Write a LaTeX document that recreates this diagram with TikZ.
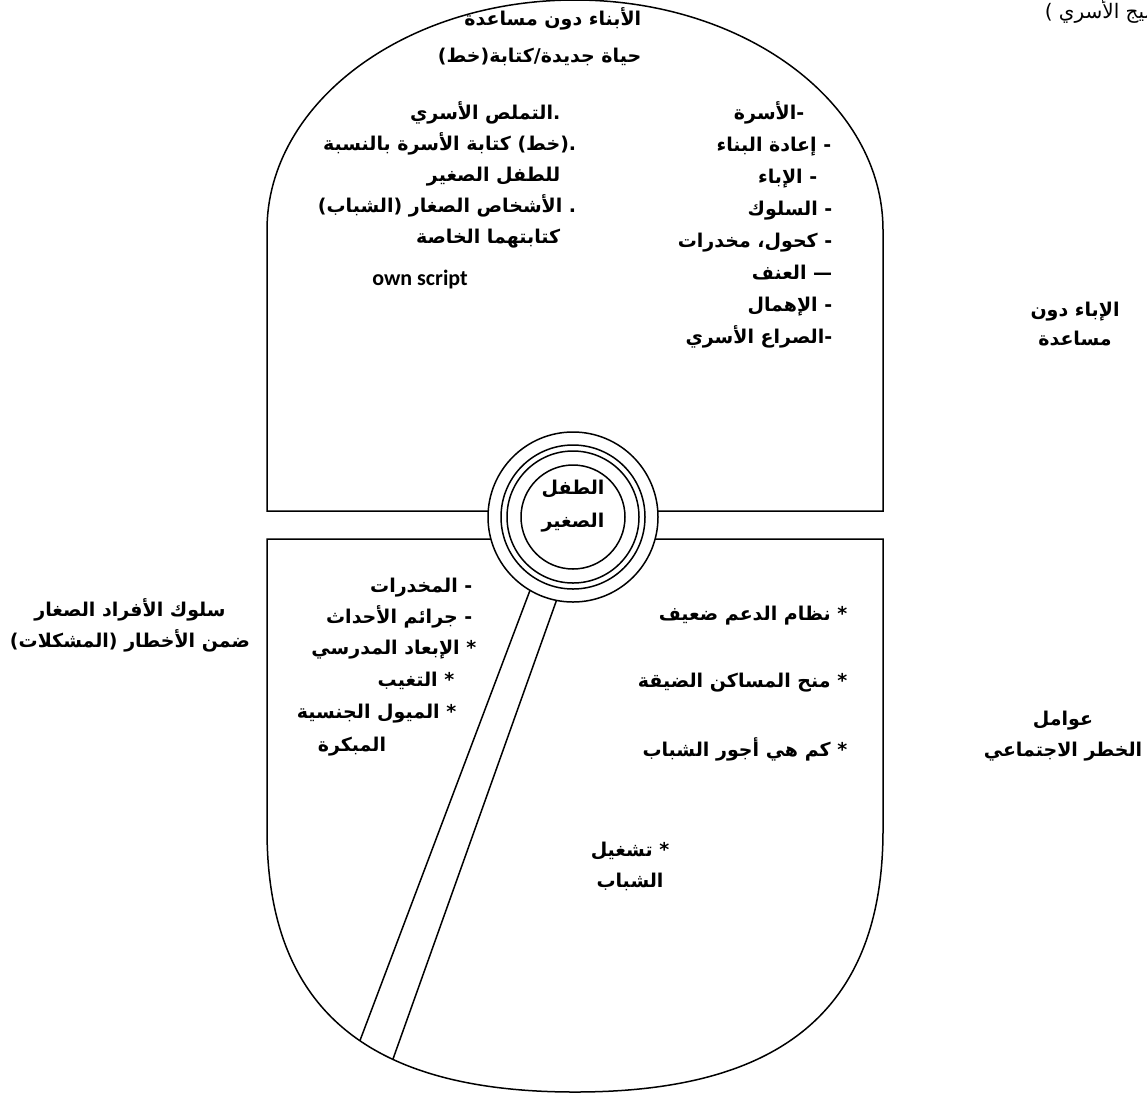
\documentclass[tikz,border=0pt]{standalone}
\usepackage{fontspec}
\newfontfamily\arfont[Script=Arabic]{DejaVu Sans}
\newfontfamily\latfont{Carlito}
\TeXXeTstate=1
\newcommand{\ar}[1]{\beginR #1\endR}
\newcommand{\nb}[1]{\hbox{#1}}
\tikzset{
  txt/.style={font=\arfont\bfseries\fontsize{19}{31}\selectfont,inner sep=0pt,text height=14pt,text depth=6pt},
  blk/.style={font=\arfont\bfseries\fontsize{19}{31}\selectfont,inner sep=0pt,align=center},
  ring/.style={draw,circle,line width=1.5pt,inner sep=0pt},
}
\begin{document}
\begin{tikzpicture}[x=1pt,y=-1pt,line width=1.5pt]
\useasboundingbox (0,0) rectangle (1147,1093);
% the two halves
\draw (573,511) -- (267,511) -- (267,230) arc[start angle=180,end angle=360,x radius=308,y radius=230] -- (883,511) -- cycle;
\draw (573,539) -- (267,539) -- (267,830) .. controls (267,1010) and (369,1092) .. (575,1092) coordinate[pos=0.55] (b1) coordinate[pos=0.64] (b2)
  .. controls (781,1092) and (883,1010) .. (883,830) -- (883,539) -- cycle;
% the band
\draw (549,540) -- (b1);
\draw (578,540) -- (b2);
% the rings
\node[ring,fill=white,minimum size=170] (ring1) at (573,517) {};
\foreach \d/\n in {144/ring2,132/ring3,104/core}
  \node[ring,minimum size=\d] (\n) at (ring1) {};
\node[blk,font=\arfont\bfseries\fontsize{19}{33}\selectfont] (child) at (573,506) {\ar{الطفل}\\\ar{الصغير}};
% upper texts
\node[txt,anchor=east] (title1) at (642,21) {\ar{الأبناء دون مساعدة}};
\node[txt,anchor=east] (title2) at (642,58) {\ar{حياة جديدة/كتابة\nb{(خط)}}};
\node[txt,anchor=east] (esc1) at (561,115) {\ar{\nb{.}التملص الأسري}};
\node[txt,anchor=east] (esc2) at (577,146) {\ar{\nb{.}\nb{(خط)} كتابة الأسرة بالنسبة}};
\node[txt,anchor=east] (esc3) at (561,177) {\ar{للطفل الصغير}};
\node[txt,anchor=east] (esc4) at (577,208) {\ar{\nb{.} الأشخاص الصغار \nb{(الشباب)}}};
\node[txt,anchor=east] (esc5) at (561,239) {\ar{كتابتهما الخاصة}};
\node[font=\latfont\bfseries\fontsize{22}{24}\selectfont,inner sep=0pt] (own) at (420,280) {own script};
\foreach \x/\y/\s [count=\i] in {805/115/{\nb{-}الأسرة},832/147/{\nb{-} إعادة البناء},818/179/{\nb{-} الإباء},833/211/{\nb{-} السلوك},833/243/{\nb{-} كحول\nb{،} مخدرات},833/275/{\nb{—} العنف},833/307/{\nb{-} الإهمال},833/339/{\nb{-}الصراع الأسري}}
  \node[txt,anchor=east] (fam\i) at (\x,\y) {\ar{\s}};
% lower texts
\foreach \x/\y/\s [count=\i] in {473/588/{\nb{-} المخدرات},473/619/{\nb{-} جرائم الأحداث},477/650/{\nb{*} الإبعاد المدرسي},455/682/{\nb{*} التغيب},457/714/{\nb{*} الميول الجنسية}}
  \node[txt,anchor=east] (risk\i) at (\x,\y) {\ar{\s}};
\node[txt] (risk6) at (352,747) {\ar{المبكرة}};
\foreach \y/\s [count=\i] in {616/{\nb{*} نظام الدعم ضعيف},683/{\nb{*} منح المساكن الضيقة},752/{\nb{*} كم هي أجور الشباب}}
  \node[txt,anchor=east] (soc\i) at (848,\y) {\ar{\s}};
\node[blk] (soc4) at (630,866) {\ar{\nb{*} تشغيل}\\\ar{الشباب}};
% outside labels
\node[blk,font=\arfont\bfseries\fontsize{19}{29}\selectfont] (parents) at (1075,324) {\ar{الإباء دون}\\\ar{مساعدة}};
\node[blk] (factors) at (1063,736) {\ar{عوامل}\\\ar{الخطر الاجتماعي}};
\node[blk] (behav) at (130,625) {\ar{سلوك الأفراد الصغار}\\\ar{ضمن الأخطار \nb{(المشكلات)}}};
\node[font=\arfont\fontsize{20}{22}\selectfont,inner sep=0pt,anchor=base west] (weave) at (1044,18) {\ar{\nb{(}النسيج الأسري \nb{)}}};
\end{tikzpicture}
\end{document}
